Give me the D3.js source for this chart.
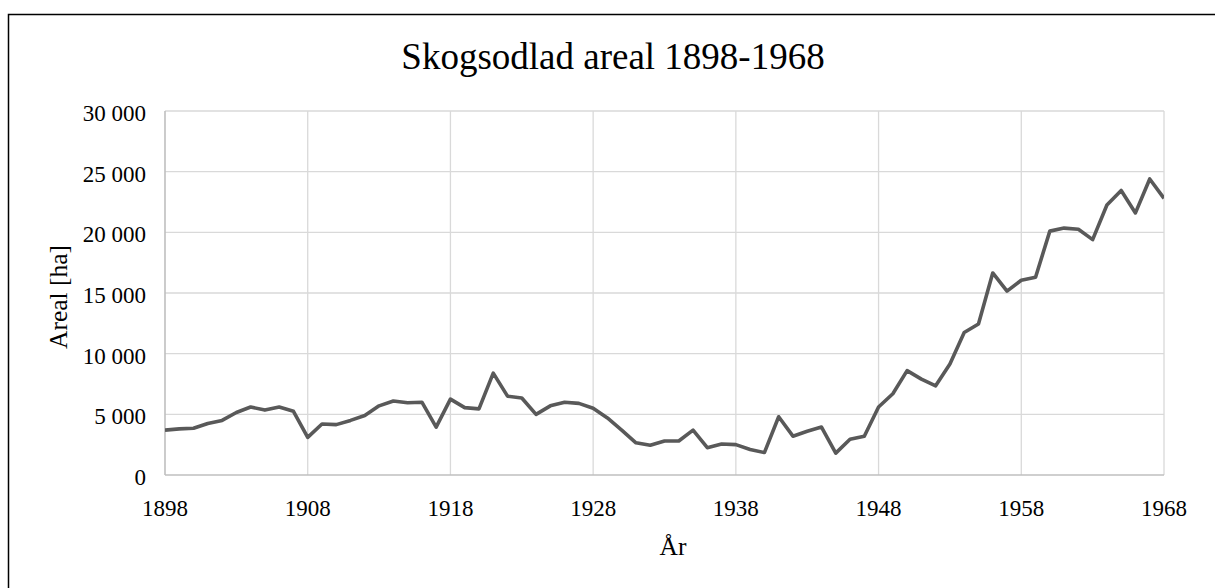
<!DOCTYPE html>
<html>
<head>
<meta charset="utf-8">
<script src="https://d3js.org/d3.v7.min.js"></script>
<style>
  html, body { margin: 0; padding: 0; background: #fff; }
  svg { display: block; }
</style>
</head>
<body>
<script>
// Skogsodlad areal per år (ha)
const years = [
  1898, 1899, 1900, 1901, 1902, 1903, 1904, 1905, 1906, 1907,
  1908, 1909, 1910, 1911, 1912, 1913, 1914, 1915, 1916, 1917,
  1918, 1919, 1920, 1921, 1922, 1923, 1924, 1925, 1926, 1927,
  1928, 1929, 1930, 1931, 1932, 1933, 1934, 1935, 1936, 1937,
  1938, 1939, 1940, 1941, 1942, 1943, 1944, 1945, 1946, 1947,
  1948, 1949, 1950, 1951, 1952, 1953, 1954, 1955, 1956, 1957,
  1958, 1959, 1960, 1961, 1962, 1963, 1964, 1965, 1966, 1967,
  1968
];
const areal = [
  3700, 3800, 3850, 4250, 4500, 5150, 5600, 5350, 5600, 5250,
  3100, 4200, 4150, 4500, 4900, 5700, 6100, 5950, 6000, 3950,
  6250, 5550, 5450, 8400, 6500, 6350, 5000, 5700, 6000, 5900,
  5500, 4700, 3700, 2650, 2450, 2800, 2800, 3700, 2250, 2550,
  2500, 2100, 1850, 4800, 3200, 3600, 3950, 1800, 2950, 3200,
  5600, 6700, 8600, 7900, 7350, 9150, 11750, 12450, 16650, 15150,
  16050, 16300, 20100, 20350, 20250, 19400, 22250, 23450, 21600, 24400,
  22800
];
const xTicks = [1898, 1908, 1918, 1928, 1938, 1948, 1958, 1968];
const yTicks = [0, 5000, 10000, 15000, 20000, 25000, 30000];

const title = "Skogsodlad areal 1898-1968";
const xTitle = "År";
const yTitle = "Areal [ha]";

const W = 1215, H = 588;
const plot = { left: 165, right: 1164, top: 111, bottom: 475 };
const font = "'Liberation Serif', 'Times New Roman', serif";

const sv = d3.formatLocale({ decimal: ",", thousands: "\u00a0", grouping: [3], currency: ["", ""] });
const fmt = sv.format(",");

const svg = d3.select("body").append("svg")
  .attr("width", W)
  .attr("height", H);

// chart frame (right and bottom edges fall outside the view)
svg.append("rect")
  .attr("x", 8.5).attr("y", 14.5)
  .attr("width", 1212).attr("height", 600)
  .attr("fill", "#fff")
  .attr("stroke", "#000")
  .attr("stroke-width", 1.5);

const x = d3.scaleLinear()
  .domain([xTicks[0], xTicks[xTicks.length - 1]])
  .range([plot.left, plot.right]);

const y = d3.scaleLinear()
  .domain([0, 30000])
  .range([plot.bottom, plot.top]);

// grid lines
svg.append("g")
  .selectAll("line")
  .data(yTicks.slice(1))
  .join("line")
  .attr("x1", plot.left).attr("x2", plot.right)
  .attr("y1", d => y(d)).attr("y2", d => y(d))
  .attr("stroke", "#d9d9d9")
  .attr("stroke-width", 1.3);

svg.append("g")
  .selectAll("line")
  .data(xTicks.slice(1))
  .join("line")
  .attr("x1", d => x(d)).attr("x2", d => x(d))
  .attr("y1", plot.top).attr("y2", plot.bottom)
  .attr("stroke", "#d9d9d9")
  .attr("stroke-width", 1.3);

// axis lines
svg.append("line")
  .attr("x1", plot.left).attr("x2", plot.left)
  .attr("y1", plot.top).attr("y2", plot.bottom)
  .attr("stroke", "#bfbfbf").attr("stroke-width", 1.6);
svg.append("line")
  .attr("x1", plot.left).attr("x2", plot.right)
  .attr("y1", plot.bottom).attr("y2", plot.bottom)
  .attr("stroke", "#bfbfbf").attr("stroke-width", 1.6);

// tick labels
svg.append("g")
  .selectAll("text")
  .data(yTicks)
  .join("text")
  .attr("x", 146)
  .attr("y", d => y(d) + 10)
  .attr("text-anchor", "end")
  .attr("font-family", font)
  .attr("font-size", 23)
  .attr("fill", "#000")
  .text(d => fmt(d));

svg.append("g")
  .selectAll("text")
  .data(xTicks)
  .join("text")
  .attr("x", d => x(d))
  .attr("y", 516)
  .attr("text-anchor", "middle")
  .attr("font-family", font)
  .attr("font-size", 23)
  .attr("fill", "#000")
  .text(d => d);

// titles
svg.append("text")
  .attr("x", 613).attr("y", 69)
  .attr("text-anchor", "middle")
  .attr("font-family", font)
  .attr("font-size", 37)
  .attr("fill", "#000")
  .text(title);

svg.append("text")
  .attr("x", 673).attr("y", 555)
  .attr("text-anchor", "middle")
  .attr("font-family", font)
  .attr("font-size", 25.5)
  .attr("fill", "#000")
  .text(xTitle);

svg.append("text")
  .attr("transform", "translate(67,297) rotate(-90)")
  .attr("text-anchor", "middle")
  .attr("font-family", font)
  .attr("font-size", 25.5)
  .attr("fill", "#000")
  .text(yTitle);

// line
svg.append("clipPath").attr("id", "clip")
  .append("rect")
  .attr("x", plot.left).attr("y", plot.top - 10)
  .attr("width", plot.right - plot.left).attr("height", plot.bottom - plot.top + 20);

const line = d3.line()
  .x((d, i) => x(years[i]))
  .y(d => y(d));

svg.append("path")
  .datum(areal)
  .attr("clip-path", "url(#clip)")
  .attr("fill", "none")
  .attr("stroke", "#595959")
  .attr("stroke-width", 3.6)
  .attr("stroke-linejoin", "round")
  .attr("d", line);
</script>
</body>
</html>
